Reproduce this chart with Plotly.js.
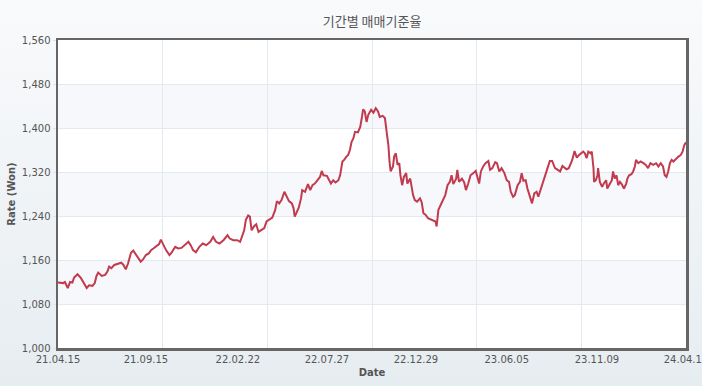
<!DOCTYPE html>
<html>
<head>
<meta charset="utf-8">
<script src="https://cdn.plot.ly/plotly-3.0.1.min.js"></script>
<style>
  html, body { margin: 0; padding: 0; }
  body { width: 702px; height: 386px; background: linear-gradient(to bottom, #f9fafc 0%, #eef2f5 60%, #e6edf1 100%); }
  #chart { width: 702px; height: 386px; }
</style>
</head>
<body>
<div id="chart"></div>
<script>
// Start date of the series; day offsets below are counted from it
const startDate = '2021-04-15';
const endDate = '2024-04-12';

// Day offsets (from startDate) of the sampled observations
const days = [
  0,9,12,17,21,25,28,34,40,44,
  50,54,60,64,67,70,76,82,86,89,
  93,98,104,110,114,118,122,127,131,134,
  139,144,148,153,158,162,166,172,176,179,
  183,188,194,198,204,209,215,221,227,231,
  235,240,246,252,258,265,270,275,281,288,
  295,299,305,312,317,321,324,327,331,334,
  337,341,345,349,354,359,363,369,373,378,
  381,385,389,394,398,402,407,410,412,416,
  419,423,425,430,435,439,443,447,452,456,
  459,462,468,472,475,479,483,488,491,495,
  498,502,505,508,511,514,517,522,526,529,
  531,534,537,540,545,549,553,557,560,565,
  569,572,575,577,579,583,585,588,591,594,
  596,599,602,606,608,613,616,618,621,625,
  630,633,636,640,644,649,653,657,659,662,
  666,670,674,678,682,685,688,693,695,698,
  703,707,710,714,718,723,727,733,736,740,
  744,749,752,756,761,764,768,772,777,781,
  785,788,792,795,800,804,807,810,814,817,
  821,825,829,833,836,841,845,849,852,856,
  860,865,870,874,878,881,885,889,893,895,
  899,903,907,910,914,917,920,923,927,929,
  932,933,936,939,940,943,947,950,954,956,
  959,964,966,969,972,975,978,981,985,989,
  991,994,998,1001,1004,1006,1010,1014,1019,1023,
  1027,1031,1036,1041,1045,1049,1053,1056,1059,1062,
  1065,1068,1071,1076,1080,1084,1087,1090,1093
];

// Exchange rate (Won) at each sampled day
const rates = [
  1119,1118,1120,1109,1120,1119,1128,1134,1127,1119,
  1109,1114,1113,1118,1131,1137,1131,1133,1139,1148,
  1145,1151,1153,1155,1151,1143,1154,1173,1177,1172,
  1166,1157,1161,1169,1172,1178,1181,1185,1189,1197,
  1187,1178,1169,1174,1184,1181,1182,1187,1193,1187,
  1178,1174,1184,1190,1187,1193,1202,1193,1190,1196,
  1205,1199,1196,1196,1193,1205,1214,1233,1241,1239,
  1214,1221,1225,1211,1214,1218,1230,1234,1237,1251,
  1267,1263,1269,1284,1275,1267,1263,1254,1239,1248,
  1255,1272,1287,1284,1298,1287,1296,1299,1305,1311,
  1322,1314,1313,1305,1299,1305,1301,1305,1314,1339,
  1342,1348,1351,1360,1375,1381,1393,1392,1402,1420,
  1434,1430,1411,1424,1433,1428,1436,1430,1420,1422,
  1418,1393,1369,1339,1321,1330,1348,1354,1333,1336,
  1314,1296,1311,1318,1299,1308,1287,1278,1269,1266,
  1272,1265,1245,1242,1236,1234,1231,1230,1221,1251,
  1260,1269,1278,1296,1302,1314,1298,1308,1324,1302,
  1308,1301,1287,1299,1314,1318,1322,1299,1321,1330,
  1336,1340,1324,1327,1338,1336,1321,1327,1318,1305,
  1302,1284,1275,1278,1296,1302,1318,1304,1305,1290,
  1275,1263,1281,1284,1275,1290,1305,1316,1327,1340,
  1340,1327,1324,1321,1331,1328,1325,1327,1336,1342,
  1358,1346,1351,1354,1357,1354,1345,1357,1354,1357,
  1327,1302,1305,1314,1327,1302,1293,1299,1305,1290,
  1296,1305,1321,1308,1314,1296,1302,1298,1290,1299,
  1308,1314,1316,1321,1330,1342,1336,1339,1336,1333,
  1327,1336,1333,1336,1330,1336,1330,1314,1311,1321,
  1336,1342,1339,1345,1348,1351,1357,1369,1374
];

// X tick positions (dates) and their labels
const xTickDates = ['2021-04-15','2021-09-15','2022-02-22','2022-07-27','2022-12-29','2023-06-05','2023-11-09','2024-04-12'];
const xTickLabels = ['21.04.15','21.09.15','22.02.22','22.07.27','22.12.29','23.06.05','23.11.09','24.04.12'];

// Y axis
const yMin = 1000, yMax = 1560, yStep = 80;

const startMs = Date.parse(startDate + 'T00:00:00Z');
const dates = days.map(d => new Date(startMs + d * 86400000).toISOString().slice(0, 10));

const tickFont = { family: 'DejaVu Sans, Verdana, sans-serif', size: 10, color: '#555' };

// alternating bands
const shapes = [];
for (let v = yMin + yStep; v < yMax; v += 2 * yStep) {
  shapes.push({ type: 'rect', xref: 'paper', yref: 'y', x0: 0, x1: 1, y0: v, y1: v + yStep,
    fillcolor: '#f6f8fb', line: { width: 0 }, layer: 'below' });
}

const traces = [
  {
    x: dates, y: rates, type: 'scatter', mode: 'lines',
    line: { color: '#c23a4e', width: 2 },
    hoverinfo: 'x+y', showlegend: false
  },
  { x: [], y: [], xaxis: 'x2', yaxis: 'y', type: 'scatter', mode: 'lines', showlegend: false, hoverinfo: 'skip' }
];

const layout = {
  width: 702, height: 386,
  margin: { l: 58, r: 16, t: 40, b: 38 },
  paper_bgcolor: 'rgba(0,0,0,0)',
  plot_bgcolor: '#ffffff',
  showlegend: false,
  title: {
    text: '기간별 매매기준율',
    font: { family: 'Noto Sans CJK KR, sans-serif', size: 13, color: '#555' },
    x: 0.53, xanchor: 'center', y: 0.945, yanchor: 'middle'
  },
  xaxis: {
    type: 'date',
    range: [startDate, endDate],
    tickvals: xTickDates, ticktext: xTickLabels,
    ticklabeloverflow: 'allow',
    showgrid: false, zeroline: false,
    showline: true, linecolor: '#666', linewidth: 2.5, mirror: true,
    ticks: '', tickfont: tickFont,
    title: { text: 'Date', font: { family: 'DejaVu Sans, Verdana, sans-serif', size: 10, color: '#555', weight: 'bold' }, standoff: 6 },
    fixedrange: true
  },
  xaxis2: {
    overlaying: 'x', anchor: 'y', range: [0, 6], dtick: 1, tick0: 0,
    showgrid: true, gridcolor: '#e4e9ef', gridwidth: 1,
    showticklabels: false, ticks: '', zeroline: false, showline: false
  },
  yaxis: {
    range: [yMin, yMax], dtick: yStep, tick0: yMin,
    tickformat: ',d',
    showgrid: true, gridcolor: '#e4e9ef', gridwidth: 1, zeroline: false,
    showline: true, linecolor: '#666', linewidth: 2.5, mirror: true,
    ticks: 'outside', ticklen: 3, tickcolor: '#dde3ea', tickfont: tickFont,
    title: { text: 'Rate (Won)', font: { family: 'DejaVu Sans, Verdana, sans-serif', size: 10, color: '#555', weight: 'bold' }, standoff: 5 },
    fixedrange: true
  },
  shapes: shapes
};

Plotly.newPlot('chart', traces, layout, { displayModeBar: false, staticPlot: true });
</script>
</body>
</html>
